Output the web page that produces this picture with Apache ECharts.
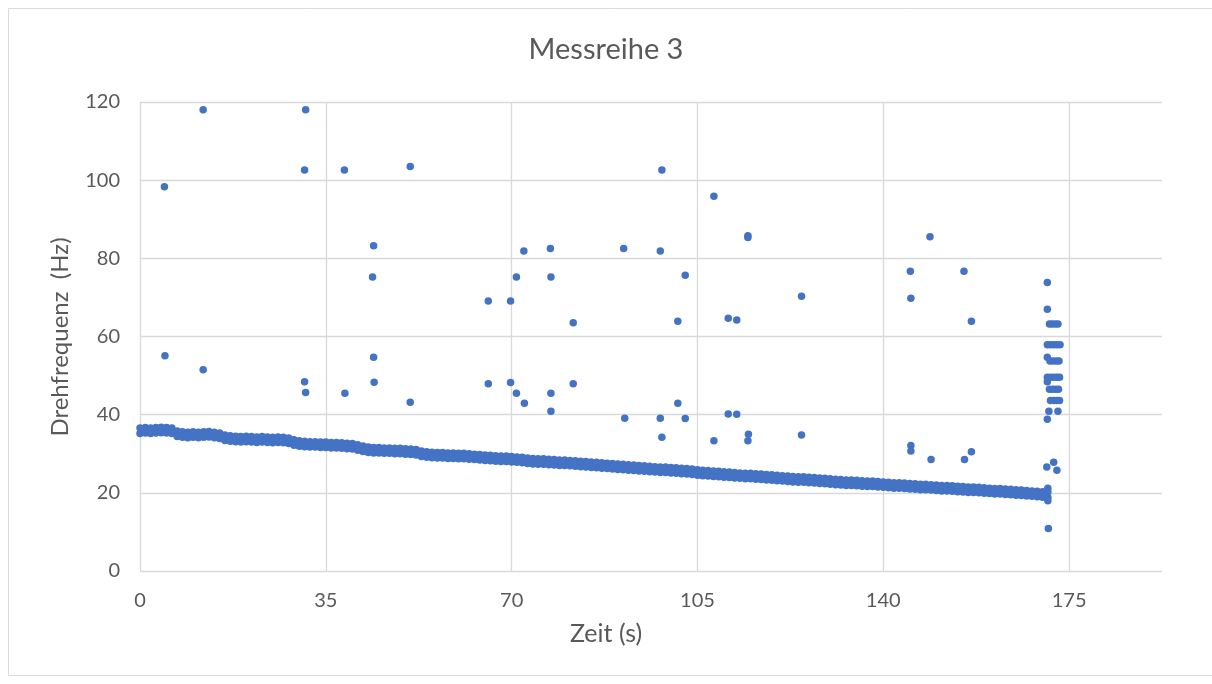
<!DOCTYPE html>
<html>
<head>
<meta charset="utf-8">
<script src="https://cdn.jsdelivr.net/npm/echarts@6/dist/echarts.min.js"></script>
<style>
html,body{margin:0;padding:0;background:#fff;}
#c{width:1212px;height:684px;}
</style>
</head>
<body>
<div id="c"></div>
<script>
// ---- Data ----
const chartTitle = "Messreihe 3";
const xTitle = "Zeit (s)";
const yTitle = "Drehfrequenz  (Hz)";
const xTicks = [0, 35, 70, 105, 140, 175];
const yTicks = [0, 20, 40, 60, 80, 100, 120];

// Main band: sample times (s) and upper / lower edge of the dense band (Hz)
const bandTime = [
0,1,2,3,4,5,6,7,8,9,10,11,12,13,14,15,16,17,18,19,20,21,22,23,24,25,26,27,28,29,
30,31,32,33,34,35,36,37,38,39,40,41,42,43,44,45,46,47,48,49,50,51,52,53,54,55,56,57,58,59,
60,61,62,63,64,65,66,67,68,69,70,71,72,73,74,75,76,77,78,79,80,81,82,83,84,85,86,87,88,89,
90,91,92,93,94,95,96,97,98,99,100,101,102,103,104,105,106,107,108,109,110,111,112,113,114,115,116,117,118,119,
120,121,122,123,124,125,126,127,128,129,130,131,132,133,134,135,136,137,138,139,140,141,142,143,144,145,146,147,148,149,
150,151,152,153,154,155,156,157,158,159,160,161,162,163,164,165,166,167,168,169,170,171];
const bandHigh = [
36.6,36.7,36.6,36.7,36.8,36.7,36.6,
35.8,35.6,35.5,35.6,35.5,35.6,35.7,35.5,35.3,
34.8,34.6,34.5,34.4,34.5,34.4,34.3,34.4,34.3,34.2,34.3,34.2,34.0,
33.6,33.3,33.2,33.1,33.1,33.0,33.0,32.9,32.9,32.8,32.7,32.6,
32.3,32.0,31.7,31.6,31.6,31.5,31.5,31.4,31.4,31.3,31.2,31.1,
30.7,30.5,30.4,30.3,30.3,30.2,30.2,30.1,30.1,30.0,29.9,29.8,29.7,29.6,
29.5,29.4,29.4,29.3,29.2,29.1,28.9,28.8,28.7,28.7,28.6,
28.5,28.4,28.4,28.3,28.2,28.1,28.0,27.9,27.8,27.7,27.6,27.5,27.4,
27.3,27.2,27.1,27.0,26.9,26.8,26.7,26.6,26.6,26.5,26.4,26.3,26.2,26.1,
25.9,25.8,25.7,25.6,25.5,25.4,25.3,25.2,25.1,25.0,25.0,24.9,
24.8,24.7,24.6,24.5,24.4,24.3,24.2,24.1,24.1,24.0,23.9,23.8,23.7,23.6,23.5,
23.4,23.3,23.3,23.2,23.1,23.0,23.0,22.9,22.8,22.7,22.6,22.6,22.5,22.4,22.3,22.2,22.2,
22.1,22.0,21.9,21.9,21.8,21.7,21.6,21.5,21.5,21.4,21.3,21.2,21.1,21.1,21.0,20.9,
20.8,20.7,20.6,20.5,20.4,20.3,20.2];
const bandLow = [
35.2,35.3,35.2,35.3,35.4,35.3,35.2,
34.4,34.2,34.1,34.2,34.1,34.2,34.3,34.1,33.9,
33.4,33.2,33.1,33.0,33.1,33.0,32.9,33.0,32.9,32.8,32.9,32.8,32.6,
32.2,31.9,31.8,31.7,31.7,31.6,31.6,31.5,31.5,31.4,31.3,31.2,
30.9,30.6,30.3,30.2,30.2,30.1,30.1,30.0,30.0,29.9,29.8,29.7,
29.3,29.1,29.0,28.9,28.9,28.8,28.8,28.7,28.7,28.6,28.5,28.4,28.3,28.2,
28.1,28.0,28.0,27.9,27.8,27.7,27.5,27.4,27.3,27.3,27.2,
27.1,27.0,27.0,26.9,26.8,26.7,26.6,26.5,26.4,26.3,26.2,26.1,26.0,
25.9,25.8,25.7,25.6,25.5,25.4,25.3,25.2,25.2,25.1,25.0,24.9,24.8,24.7,
24.5,24.4,24.3,24.2,24.1,24.0,23.9,23.8,23.7,23.6,23.6,23.5,
23.4,23.3,23.2,23.1,23.0,22.9,22.8,22.7,22.7,22.6,22.5,22.4,22.3,22.2,22.1,
22.0,21.9,21.9,21.8,21.7,21.6,21.6,21.5,21.4,21.3,21.2,21.2,21.1,21.0,20.9,20.8,20.8,
20.7,20.6,20.5,20.5,20.4,20.3,20.2,20.1,20.1,20.0,19.9,19.8,19.7,19.7,19.6,19.5,
19.4,19.3,19.2,19.1,19.0,18.9,18.8];

// Isolated points (time s, frequency Hz)
const outlierTime = [
4.6,4.7,11.9,11.9,31.2,31.0,31.0,31.2,38.5,38.6,44.0,43.8,44.0,44.1,50.9,50.9,
65.6,65.6,69.8,69.8,70.9,70.9,72.3,72.4,77.3,77.4,77.4,77.4,81.6,81.6,91.1,91.3,
98.3,98.0,98.0,98.3,101.3,101.3,102.7,102.7,108.1,108.1,110.8,110.8,112.4,112.4,
114.5,114.5,114.6,114.5,124.6,124.6,145.1,145.2,145.2,145.2,148.8,149.0,155.2,155.3,156.6,156.6,
170.9,170.9,171.3,171.8,172.4,172.9,170.9,171.5,172.1,172.7,173.3,170.9,171.4,172.0,172.6,173.1,
170.9,171.5,172.1,172.7,173.2,170.9,171.3,171.9,172.5,173.0,171.5,172.1,172.7,173.2,
171.2,172.9,170.9,170.8,172.1,172.7,171.0,171.0,171.1];
const outlierFreq = [
98.3,55.1,118.0,51.5,118.0,102.6,48.4,45.7,102.6,45.5,83.2,75.2,54.7,48.3,103.5,43.2,
69.1,47.9,69.1,48.2,75.2,45.5,81.9,42.9,82.5,75.2,45.5,40.9,63.5,47.9,82.5,39.1,
102.6,81.9,39.1,34.2,63.9,42.9,75.7,39.0,95.9,33.3,64.7,40.2,64.2,40.1,
85.8,85.3,35.0,33.3,70.3,34.8,76.7,69.8,32.1,30.7,85.5,28.5,76.7,28.5,63.9,30.5,
73.8,67.0,63.2,63.2,63.2,63.2,57.9,57.9,57.9,57.9,57.9,54.7,53.7,53.7,53.7,53.7,
49.6,49.6,49.6,49.6,49.6,48.4,46.5,46.5,46.5,46.5,43.6,43.6,43.6,43.6,
40.9,40.9,38.8,26.6,27.8,25.8,21.2,18.0,10.9];

// ---- Build series data ----
const pts = [];
bandTime.forEach((t, i) => { pts.push([t, bandHigh[i]]); pts.push([t, bandLow[i]]); });
outlierTime.forEach((t, i) => pts.push([t, outlierFreq[i]]));

const FONT = 'Lato';
const TXT = '#595959';
const GRID = '#d9d9d9';

const chart = echarts.init(document.getElementById('c'), null, {renderer: 'canvas'});
chart.setOption({
  backgroundColor: '#ffffff',
  animation: false,
  textStyle: {fontFamily: FONT},
  title: {
    text: chartTitle, left: 'center', top: 30,
    textStyle: {fontFamily: FONT, fontSize: 29, fontWeight: 'normal', color: TXT}
  },
  grid: {left: 140, right: 50, top: 102, bottom: 113, containLabel: false},
  xAxis: {
    type: 'value', min: 0, max: 192.5, interval: 35,
    axisLine: {show: false},
    axisTick: {show: false},
    axisLabel: {color: TXT, fontSize: 20, fontFamily: FONT, margin: 20, showMaxLabel: false,
      formatter: v => (xTicks.indexOf(v) >= 0 ? String(v) : '')},
    splitLine: {show: true, showMaxLine: false, lineStyle: {color: GRID, width: 1.3}}
  },
  yAxis: {
    type: 'value', min: 0, max: 120, interval: 20,
    axisLine: {show: false},
    axisTick: {show: false},
    axisLabel: {color: TXT, fontSize: 20, fontFamily: FONT, margin: 20,
      formatter: v => (yTicks.indexOf(v) >= 0 ? String(v) : '')},
    splitLine: {show: true, lineStyle: {color: GRID, width: 1.3}}
  },
  graphic: [
    {type: 'rect', shape: {x: 8.5, y: 8.5, width: 1300, height: 667}, silent: true,
      style: {fill: 'none', stroke: '#d9d9d9', lineWidth: 1}},
    {type: 'text', left: 'center', top: 621,
      style: {text: xTitle, fontFamily: FONT, fontSize: 25, fill: TXT}},
    {type: 'text', x: 60, y: 337, rotation: Math.PI / 2,
      style: {text: yTitle, fontFamily: FONT, fontSize: 24, fill: TXT, align: 'center', verticalAlign: 'middle'}}
  ],
  series: [{
    type: 'scatter',
    data: pts,
    symbol: 'circle',
    symbolSize: 7.5,
    itemStyle: {color: '#4472C4', opacity: 1}
  }]
});
</script>
</body>
</html>
